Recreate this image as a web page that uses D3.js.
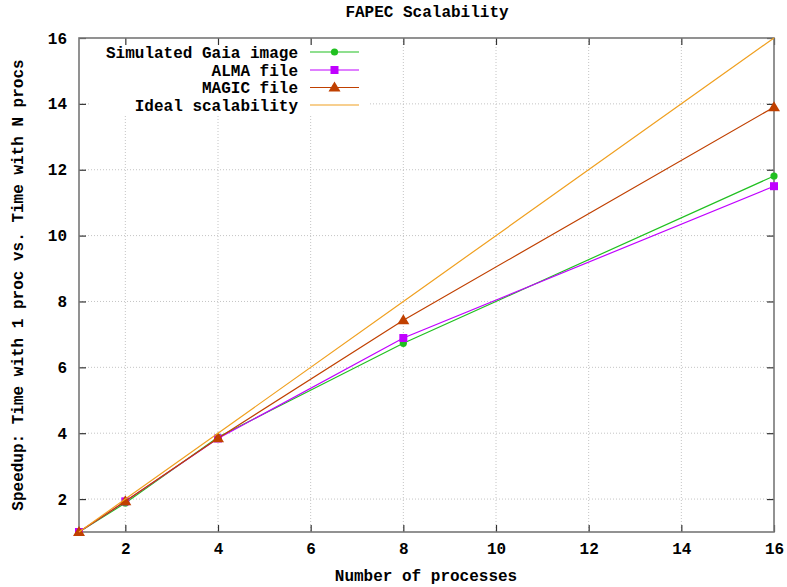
<!DOCTYPE html>
<html>
<head>
<meta charset="utf-8">
<script src="https://cdn.jsdelivr.net/npm/d3@7"></script>
<style>
  body { margin: 0; background: #fff; }
  text { font-family: "Liberation Mono", "DejaVu Sans Mono", monospace; font-weight: bold; font-size: 16px; fill: #000; }
</style>
</head>
<body>
<div id="chart"></div>
<script>
var procs = [1, 2, 4, 8, 16];
var gaiaSpeedup = [1, 1.88, 3.88, 6.73, 11.81];
var almaSpeedup = [1, 1.93, 3.84, 6.89, 11.5];
var magicSpeedup = [1, 1.93, 3.85, 7.43, 13.9];
var idealSpeedup = [1, 2, 4, 8, 16];
var xTicks = [2, 4, 6, 8, 10, 12, 14, 16];
var yTicks = [2, 4, 6, 8, 10, 12, 14, 16];

var series = [
  { name: "Simulated Gaia image", values: gaiaSpeedup, color: "#20c020", mark: "circle" },
  { name: "ALMA file", values: almaSpeedup, color: "#c000ff", mark: "square" },
  { name: "MAGIC file", values: magicSpeedup, color: "#c04000", mark: "triangle" },
  { name: "Ideal scalability", values: idealSpeedup, color: "#f0a020", mark: null }
];

var width = 787, height = 587;
var plotLeft = 79, plotRight = 774, plotTop = 38, plotBottom = 532;

var svg = d3.select("#chart")
  .append("svg")
  .attr("width", width)
  .attr("height", height);

var x = d3.scaleLinear().domain([1, 16]).range([plotLeft, plotRight]);
var y = d3.scaleLinear().domain([1, 16]).range([plotBottom, plotTop]);

// grid
svg.append("g")
  .selectAll("line")
  .data(xTicks.filter(function (d) { return d < 16; }))
  .enter()
  .append("line")
  .attr("x1", function (d) { return x(d); })
  .attr("x2", function (d) { return x(d); })
  .attr("y1", plotTop)
  .attr("y2", plotBottom)
  .attr("stroke", "#c4c4c4")
  .attr("stroke-dasharray", "1,2");

svg.append("g")
  .selectAll("line")
  .data(yTicks.filter(function (d) { return d < 16; }))
  .enter()
  .append("line")
  .attr("x1", plotLeft)
  .attr("x2", plotRight)
  .attr("y1", function (d) { return y(d); })
  .attr("y2", function (d) { return y(d); })
  .attr("stroke", "#c4c4c4")
  .attr("stroke-dasharray", "1,2");

// key background hides the grid
svg.append("rect")
  .attr("x", 89)
  .attr("y", 41)
  .attr("width", 279)
  .attr("height", 73)
  .attr("fill", "#fff");

// axes with inward ticks, mirrored on top and right
var xAxis = d3.axisBottom(x).tickValues(xTicks).tickSize(-7).tickPadding(11);
var yAxis = d3.axisLeft(y).tickValues(yTicks).tickSize(-7).tickPadding(12);

svg.append("g")
  .attr("class", "x axis")
  .attr("transform", "translate(0," + plotBottom + ")")
  .call(xAxis);

svg.append("g")
  .attr("class", "y axis")
  .attr("transform", "translate(" + plotLeft + ",0)")
  .call(yAxis);

svg.append("g")
  .attr("transform", "translate(0," + plotTop + ")")
  .call(d3.axisTop(x).tickValues(xTicks).tickSize(-7).tickFormat(""));

svg.append("g")
  .attr("transform", "translate(" + plotRight + ",0)")
  .call(d3.axisRight(y).tickValues(yTicks).tickSize(-7).tickFormat(""));

svg.selectAll(".domain").remove();
svg.selectAll(".tick line").attr("stroke", "#333").attr("stroke-width", 1.2);
svg.selectAll(".tick text")
  .style("font-family", "'Liberation Mono', monospace")
  .style("font-weight", "bold")
  .style("font-size", "16px")
  .attr("fill", "#000");

svg.append("rect")
  .attr("x", plotLeft)
  .attr("y", plotTop)
  .attr("width", plotRight - plotLeft)
  .attr("height", plotBottom - plotTop)
  .attr("fill", "none")
  .attr("stroke", "#777")
  .attr("stroke-width", 1.6);

// series
var line = d3.line()
  .x(function (d) { return x(d[0]); })
  .y(function (d) { return y(d[1]); });

function drawMark(g, kind, cx, cy, color) {
  if (kind === "circle") {
    g.append("circle").attr("cx", cx).attr("cy", cy).attr("r", 3.6).attr("fill", color);
  } else if (kind === "square") {
    g.append("rect").attr("x", cx - 4).attr("y", cy - 4).attr("width", 8).attr("height", 8).attr("fill", color);
  } else if (kind === "triangle") {
    g.append("path")
      .attr("d", "M" + cx + "," + (cy - 6) + "L" + (cx + 6) + "," + (cy + 4) + "L" + (cx - 6) + "," + (cy + 4) + "Z")
      .attr("fill", color);
  }
}

series.forEach(function (s) {
  var pts = procs.map(function (p, i) { return [p, s.values[i]]; });
  var g = svg.append("g");
  g.append("path")
    .datum(pts)
    .attr("d", line)
    .attr("fill", "none")
    .attr("stroke", s.color)
    .attr("stroke-width", 1.2);
  if (s.mark) {
    pts.forEach(function (p) {
      drawMark(g, s.mark, x(p[0]), y(p[1]), s.color);
    });
  }
});

// key
var keyY = [52, 70, 87.5, 105];
series.forEach(function (s, i) {
  var g = svg.append("g");
  g.append("text")
    .attr("x", 298)
    .attr("y", keyY[i])
    .attr("dy", "0.35em")
    .attr("text-anchor", "end")
    .text(s.name);
  g.append("line")
    .attr("x1", 310)
    .attr("x2", 359)
    .attr("y1", keyY[i])
    .attr("y2", keyY[i])
    .attr("stroke", s.color)
    .attr("stroke-width", 1.2);
  if (s.mark) drawMark(g, s.mark, 334.5, keyY[i], s.color);
});

// titles
svg.append("text")
  .attr("x", 427)
  .attr("y", 11)
  .attr("dy", "0.35em")
  .attr("text-anchor", "middle")
  .text("FAPEC Scalability");

svg.append("text")
  .attr("x", 426)
  .attr("y", 575)
  .attr("dy", "0.35em")
  .attr("text-anchor", "middle")
  .text("Number of processes");

svg.append("text")
  .attr("transform", "translate(17,285) rotate(-90)")
  .attr("dy", "0.35em")
  .attr("text-anchor", "middle")
  .text("Speedup: Time with 1 proc vs. Time with N procs");
</script>
</body>
</html>
